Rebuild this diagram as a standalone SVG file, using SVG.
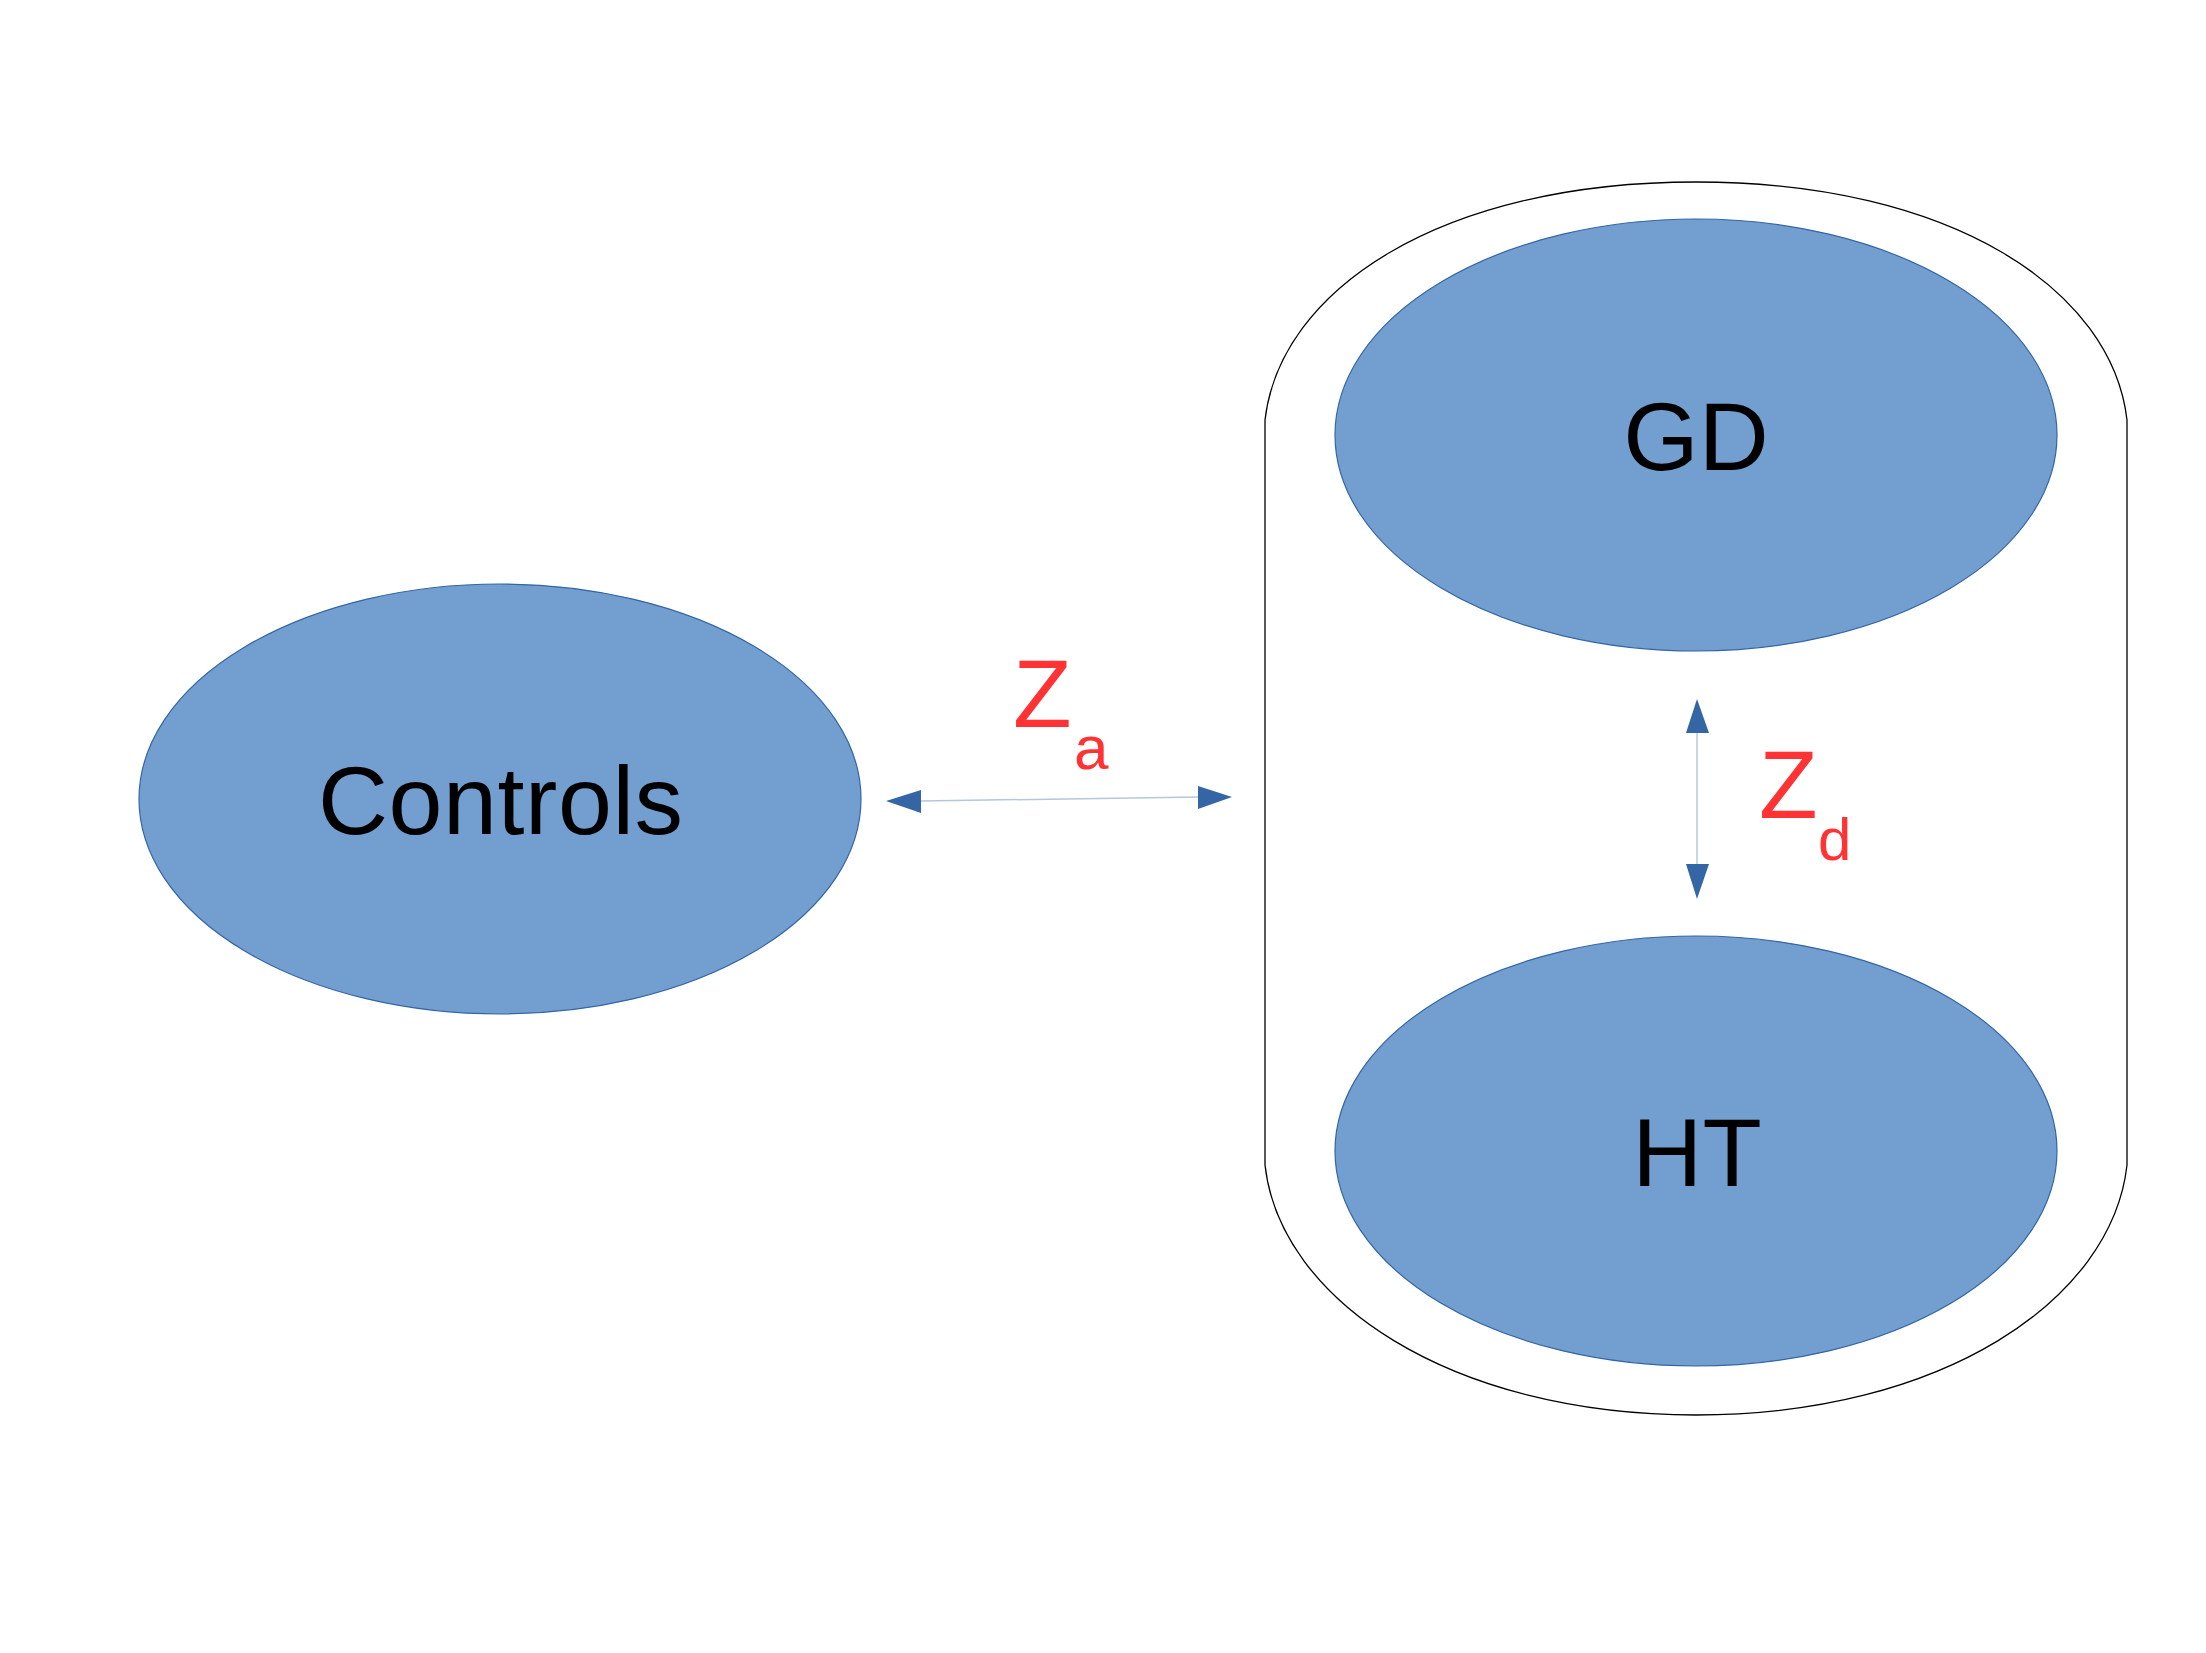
<svg xmlns="http://www.w3.org/2000/svg" width="2206" height="1653" viewBox="0 0 2206 1653">
<style>
.node{fill:#729fcf;stroke:#3465a4;stroke-width:1.2}
.lbl{font-family:"Liberation Sans",Arial,sans-serif;font-size:97px;fill:#000;text-anchor:middle}
.z{font-family:"Liberation Sans",Arial,sans-serif;fill:#ff3333}
.conn{stroke:#b4c7dc;stroke-width:1.5;fill:none}
.head{fill:#3465a4}
</style>
<rect width="2206" height="1653" fill="#fff"/>
<g id="container">
<path d="M1265,1165 L1265,420 C1280,290 1440,182 1696,182 C1952,182 2112,290 2127,420 L2127,1165 C2112,1300 1942,1415 1696,1415 C1450,1415 1280,1300 1265,1165 Z" fill="none" stroke="#000" stroke-width="1.3"/>
</g>
<g id="controls">
<ellipse class="node" cx="500" cy="799" rx="361" ry="215"/>
<text class="lbl" x="500.5" y="834" font-size="98" textLength="365" lengthAdjust="spacing">Controls</text>
</g>
<g id="gd">
<ellipse class="node" cx="1696" cy="435" rx="361" ry="216"/>
<text class="lbl" x="1696" y="470">GD</text>
</g>
<g id="ht">
<ellipse class="node" cx="1696" cy="1151" rx="361" ry="215"/>
<text class="lbl" x="1697" y="1186">HT</text>
</g>
<g id="connectors">
<line class="conn" x1="921" y1="801" x2="1198" y2="797"/>
<polygon class="head" points="886,801 921,790 921,813"/>
<polygon class="head" points="1232,797 1198,786 1198,809"/>
<line class="conn" x1="1697" y1="733" x2="1697" y2="864"/>
<polygon class="head" points="1697,699 1686,733 1709,733"/>
<polygon class="head" points="1697,899 1686,864 1709,864"/>
</g>
<g id="labels">
<text class="z" x="1013" y="727" font-size="96">Z</text>
<text class="z" x="1074" y="769" font-size="62">a</text>
<text class="z" x="1759" y="818" font-size="96">Z</text>
<text class="z" x="1818" y="860" font-size="60">d</text>
</g>
</svg>
